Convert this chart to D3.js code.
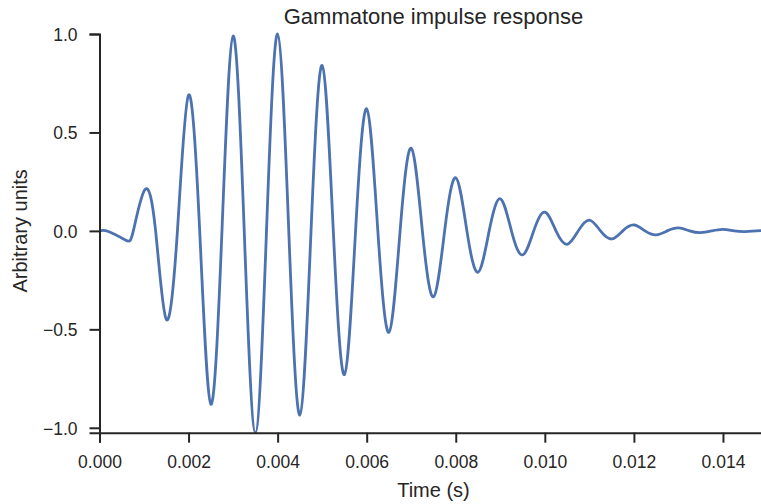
<!DOCTYPE html>
<html><head><meta charset="utf-8">
<script src="https://cdn.jsdelivr.net/npm/d3@7"></script>
<style>
html,body{margin:0;padding:0;background:#fff;}
svg{display:block;font-family:"Liberation Sans",Arial,sans-serif;}
</style></head>
<body><svg id="c" width="761" height="504"></svg>
<script>
// Data: extrema of the waveform and its zero crossings
const extremaTimes = [0, 0.0002, 0.00058, 0.00102, 0.0015, 0.002, 0.0025, 0.003, 0.0035, 0.004, 0.0045, 0.005, 0.0055, 0.006, 0.0065, 0.007, 0.0075, 0.008, 0.0085, 0.009, 0.0095, 0.010, 0.0105, 0.011, 0.0115, 0.012, 0.0125, 0.013, 0.0135, 0.014, 0.0145, 0.015];
const extremaValues = [0, -0.003, -0.046, 0.21, -0.45, 0.69, -0.88, 0.99, -1.025, 1.0, -0.935, 0.84, -0.73, 0.62, -0.515, 0.42, -0.335, 0.27, -0.21, 0.163, -0.122, 0.095, -0.068, 0.055, -0.041, 0.03, -0.02, 0.015, -0.009, 0.008, -0.004, 0.002];
const crossingTimes = [0.00076, 0.00126, 0.00175, 0.00225, 0.00275, 0.00325, 0.00375, 0.00425, 0.00475, 0.00525, 0.00575, 0.00625, 0.00675, 0.00725, 0.00775, 0.00825, 0.00875, 0.00925, 0.00975, 0.01025, 0.01075, 0.01125, 0.01175, 0.01225, 0.01275, 0.01325, 0.01375, 0.01425, 0.01475];
const xTicks = [0, 0.002, 0.004, 0.006, 0.008, 0.010, 0.012, 0.014];
const yTicks = [-1.0, -0.5, 0.0, 0.5, 1.0];
const titleText = "Gammatone impulse response";
const xLabel = "Time (s)";
const yLabel = "Arbitrary units";

const points = extremaTimes.map((t, i) => [t, extremaValues[i]])
  .concat(crossingTimes.map(t => [t, 0]))
  .sort((a, b) => a[0] - b[0]);

const svg = d3.select("#c");
const mLeft = 99.5, mRight = 767.5, mTop = 34, mBottom = 432.7;
const x = d3.scaleLinear().domain([0, 0.015]).range([mLeft, mRight]);
const y = d3.scaleLinear().domain([-1.025, 1.0]).range([mBottom, mTop]);
const ink = "#262626";

const line = d3.line().x(d => x(d[0])).y(d => y(d[1])).curve(d3.curveNatural);
svg.append("path").datum(points).attr("d", line)
  .attr("fill", "none").attr("stroke", "#4C72B0").attr("stroke-width", 2.8)
  .attr("stroke-linejoin", "round");

const xAxis = svg.append("g").attr("transform", `translate(0,${mBottom})`)
  .call(d3.axisBottom(x).tickValues(xTicks).tickFormat(d3.format(".3f")).tickSize(10).tickPadding(13));
const yAxis = svg.append("g").attr("transform", `translate(${mLeft},0)`)
  .call(d3.axisLeft(y).tickValues(yTicks).tickFormat(d => d3.format(".1f")(d).replace("-", "\u2212")).tickSize(10).tickPadding(12));
[xAxis, yAxis].forEach(g => {
  g.select(".domain").attr("stroke", ink).attr("stroke-width", 2);
  g.selectAll(".tick line").attr("stroke", ink).attr("stroke-width", 2);
  g.selectAll(".tick text").attr("fill", ink).style("font-size", "17.5px").style("font-family", "Liberation Sans, Arial, sans-serif");
});
yAxis.selectAll(".tick text").attr("dy", "0.36em");

svg.append("text").attr("x", (mLeft + mRight) / 2).attr("y", 24).attr("text-anchor", "middle")
  .attr("fill", ink).style("font-size", "22px").text(titleText);
svg.append("text").attr("x", x(0.0075)).attr("y", 497).attr("text-anchor", "middle")
  .attr("fill", ink).style("font-size", "20px").text(xLabel);
svg.append("text").attr("transform", `translate(27,${y(0)}) rotate(-90)`).attr("text-anchor", "middle")
  .attr("fill", ink).style("font-size", "20px").text(yLabel);
</script></body></html>
